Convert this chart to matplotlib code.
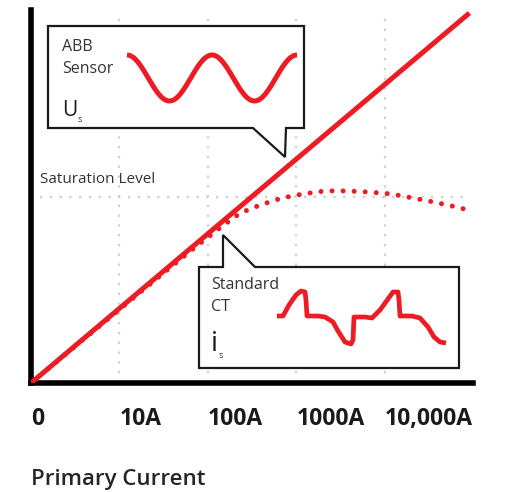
import numpy as np
import matplotlib
matplotlib.use("Agg")
import matplotlib.pyplot as plt
from matplotlib.patches import Polygon

plt.rcParams['font.family'] = ['Open Sans', 'DejaVu Sans']

RED = '#ed1c24'
GRID = '#cfcfcf'

# x positions are decades: 0, 10A, 100A, 1000A, 10,000A
tick_pos = [0, 1, 2, 3, 4]
tick_labels = ['0', '10A', '100A', '1000A', '10,000A']

# ABB sensor: linear output over the whole range
sensor_x = [0, 4.96]
sensor_y = [0, 99.2]

# Standard CT: follows the line, then saturates
ct_x = [0, 1.0, 1.5, 1.82, 2.16, 2.37, 2.59, 2.84, 3.08, 3.33, 3.57, 3.82, 4.07,
        4.32, 4.56, 4.81, 4.99]
ct_y = [0, 19.7, 29.5, 35.7, 42.0, 45.6, 47.7, 49.6, 50.7, 51.5, 51.5, 51.2, 50.7,
        49.6, 48.5, 47.2, 46.1]

saturation = 50

# icon waveforms (pixel coords of the overlay)
ct_wave = [(277, 316), (283, 316), (289, 305), (296, 295), (301, 291), (305, 292),
           (306, 300), (307, 316), (318, 316), (325, 317), (333, 322), (338, 331),
           (345, 342), (351, 344), (353, 340), (354, 317), (365, 317), (372, 318),
           (380, 310), (388, 299), (393, 292), (398, 292), (399, 300), (400, 316),
           (412, 316), (420, 318), (428, 327), (434, 337), (440, 342), (446, 343)]

fig = plt.figure(figsize=(5.09, 4.92), dpi=100)
ax = fig.add_axes([31 / 509, 109 / 492, 442 / 509, 373 / 492])
ax.set_xlim(0, 5)
ax.set_ylim(0, 100)

for x in tick_pos[1:]:
    ax.plot([x, x], [0, 99.5], color=GRID, lw=1.6, ls=(0, (1, 3.4)), zorder=1)
ax.plot([0.1, 4.92], [saturation, saturation], color=GRID, lw=1.6,
        ls=(0, (1, 3.4)), zorder=1)

ax.plot(sensor_x, sensor_y, color=RED, lw=3.6, solid_capstyle='butt', zorder=3)
ax.plot(ct_x, ct_y, color=RED, lw=3.6, ls=(0, (0.01, 2.2)),
        dash_capstyle='round', zorder=3)

ax.text(0.1, saturation + 2.5, 'Saturation Level', fontsize=11, color='#333333',
        va='bottom', ha='left')

for side in ['top', 'right']:
    ax.spines[side].set_visible(False)
for side in ['left', 'bottom']:
    ax.spines[side].set_linewidth(4)
    ax.spines[side].set_color('black')
ax.set_yticks([])
ax.set_xticks(tick_pos)
ax.set_xticklabels(tick_labels, ha='left', fontsize=16.5, fontweight='bold',
                   color='#1a1a1a')
ax.tick_params(axis='x', length=0, pad=17)

fig.text(31 / 509, 1 - 480 / 492, 'Primary Current', fontsize=16, fontweight='semibold',
         color='#262626', va='center', ha='left')

# overlay in pixel coords for the callouts
ov = fig.add_axes([0, 0, 1, 1], zorder=5)
ov.set_xlim(0, 509)
ov.set_ylim(492, 0)
ov.axis('off')
ov.patch.set_alpha(0)

abb_box = [(48, 26), (304, 26), (304, 128), (286, 128), (285, 157), (253, 128), (48, 128)]
ct_box = [(199, 267), (223, 267), (223, 235), (255, 267), (459, 267), (459, 368), (199, 368)]
for pts in [abb_box, ct_box]:
    ov.add_patch(Polygon(pts, closed=True, facecolor='white', edgecolor='#1a1a1a',
                         lw=1.6, joinstyle='miter'))

ov.text(62, 47, 'ABB', fontsize=11.5, color='#333333', va='center')
ov.text(62, 69, 'Sensor', fontsize=11.5, color='#333333', va='center')
ov.text(62, 111, 'U', fontsize=15, color='#1a1a1a', va='center')
ov.text(78, 119, 's', fontsize=6.5, color='#333333', va='center')

ov.text(211, 285, 'Standard', fontsize=11.5, color='#333333', va='center')
ov.text(211, 307, 'CT', fontsize=11.5, color='#333333', va='center')
ov.text(211, 344, 'i', fontsize=20, color='#1a1a1a', va='center')
ov.text(219, 356, 's', fontsize=6.5, color='#333333', va='center')

# sine icon for the sensor
t = np.linspace(0, 4 * np.pi, 200)
ov.plot(127 + t / (4 * np.pi) * 170, 78 - 23 * np.cos(t), color=RED, lw=3.6,
        solid_capstyle='butt')

# distorted CT secondary current icon
wx, wy = zip(*ct_wave)
ov.plot(wx, wy, color=RED, lw=3.4, solid_capstyle='butt', solid_joinstyle='round')

fig.savefig('out.png', dpi=100)
